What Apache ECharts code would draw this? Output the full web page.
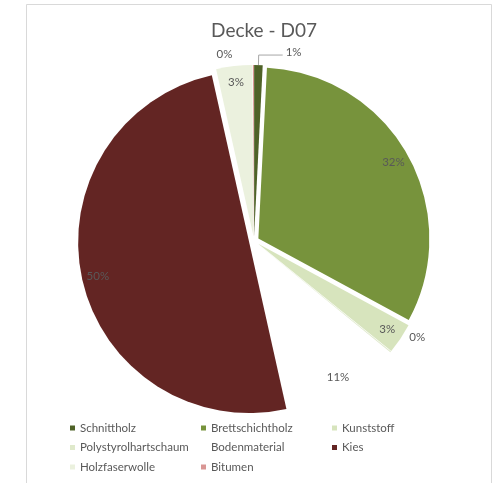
<!DOCTYPE html>
<html>
<head>
<meta charset="utf-8">
<title>Decke - D07</title>
<script src="https://cdn.jsdelivr.net/npm/echarts@6/dist/echarts.min.js"></script>
<style>
  html, body { margin: 0; padding: 0; background: #ffffff; }
  #chart { width: 493px; height: 483px; }
</style>
</head>
<body>
<div id="chart"></div>
<script>
// Material shares of the ceiling build-up (percent of total)
const categories = ['Schnittholz', 'Brettschichtholz', 'Kunststoff', 'Polystyrolhartschaum',
                    'Bodenmaterial', 'Kies', 'Holzfaserwolle', 'Bitumen'];
const shares = [0.8, 32.1, 2.9, 0.1, 10.6, 50.0, 3.4, 0.1];
const colors = ['#4f6228', '#77933c', '#d7e4bd', '#dfe9cb', '#ffffff', '#632523', '#ebf1de', '#d99694'];

// Slices that carry their label outside the pie
const outsideLabels = ['Schnittholz', 'Polystyrolhartschaum', 'Bitumen'];

const legendColumns = [
  ['Schnittholz', 'Polystyrolhartschaum', 'Holzfaserwolle'],
  ['Brettschichtholz', 'Bodenmaterial', 'Bitumen'],
  ['Kunststoff', 'Kies']
];

const FONT = 'Lato, "Open Sans", sans-serif';
const TEXT = '#595959';
const CENTER = [254, 241];
const R = 171;
const EXPLODE = 5;

const pieData = categories.map((name, i) => ({
  name: name,
  value: shares[i],
  selected: true,
  itemStyle: { color: colors[i] }
}));

const pctLabel = p => Math.round(p.value) + '%';

const chart = echarts.init(document.getElementById('chart'), null, { renderer: 'canvas' });

chart.setOption({
  animation: false,
  backgroundColor: '#ffffff',
  title: {
    text: 'Decke - D07',
    left: 259,
    top: 16,
    textAlign: 'center',
    textStyle: { fontFamily: FONT, fontSize: 19, fontWeight: 'normal', color: TEXT }
  },
  graphic: [{
    type: 'rect',
    silent: true,
    shape: { x: 26.5, y: 4.5, width: 465, height: 500 },
    style: { fill: 'none', stroke: '#d9d9d9', lineWidth: 1 }
  }],
  legend: legendColumns.map((col, k) => ({
    data: col,
    orient: 'vertical',
    left: [70, 201, 332][k],
    top: 421,
    padding: 0,
    itemGap: 5.5,
    itemWidth: 5,
    itemHeight: 5,
    icon: 'rect',
    selectedMode: false,
    textStyle: { fontFamily: FONT, fontSize: 11.5, color: TEXT, lineHeight: 14 }
  })),
  series: [
    {
      // the exploded pie itself
      type: 'pie',
      center: CENTER,
      radius: R,
      startAngle: 90,
      clockwise: true,
      selectedMode: 'multiple',
      selectedOffset: EXPLODE,
      avoidLabelOverlap: false,
      emphasis: { disabled: true, scale: false },
      itemStyle: { borderWidth: 0 },
      label: { show: false },
      labelLine: { show: false },
      data: pieData.map(d => {
        const item = Object.assign({}, d);
        if (outsideLabels.includes(d.name)) {
          const withLine = d.name === 'Schnittholz';
          item.label = {
            show: true,
            position: 'outside',
            formatter: pctLabel,
            fontFamily: FONT,
            fontSize: 11.5,
            color: TEXT,
            distanceToLabelLine: 3
          };
          item.labelLine = {
            show: withLine,
            length: withLine ? 10 : 6,
            length2: withLine ? 24 : 8,
            lineStyle: { color: '#a6a6a6', width: 1 }
          };
        }
        return item;
      }),
      labelLayout: function (p) {
        const name = categories[p.dataIndex];
        if (name === 'Polystyrolhartschaum') return { dx: 3, dy: -18 };
        if (name === 'Bitumen') return { dx: -10, dy: -5 };
        if (name === 'Schnittholz') return { dx: 0, dy: -3 };
        return {};
      }
    },
    {
      // transparent ring used to place the "inside end" value labels
      type: 'pie',
      center: CENTER,
      radius: [R - 32, R - 6],
      startAngle: 90,
      clockwise: true,
      silent: true,
      selectedMode: 'multiple',
      selectedOffset: EXPLODE,
      avoidLabelOverlap: false,
      emphasis: { disabled: true, scale: false },
      itemStyle: { color: 'rgba(0,0,0,0)', borderWidth: 0 },
      labelLine: { show: false },
      label: {
        show: true,
        position: 'inside',
        formatter: pctLabel,
        fontFamily: FONT,
        fontSize: 11.5,
        color: TEXT
      },
      data: pieData.map(d => ({
        name: d.name,
        value: d.value,
        selected: true,
        itemStyle: { color: 'rgba(0,0,0,0)' },
        label: { show: !outsideLabels.includes(d.name) }
      }))
    }
  ]
});
</script>
</body>
</html>
